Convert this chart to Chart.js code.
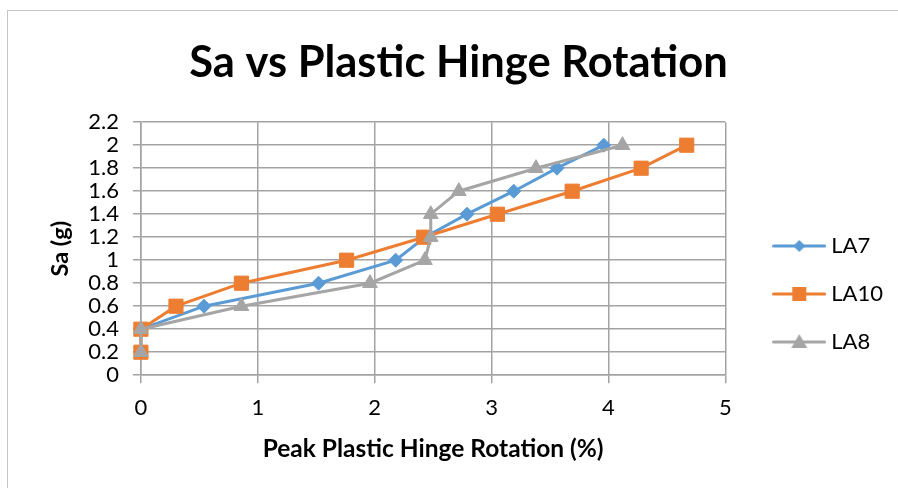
<!DOCTYPE html>
<html>
<head>
<meta charset="utf-8">
<script src="https://cdn.jsdelivr.net/npm/chart.js@4/dist/chart.umd.min.js"></script>
<style>
  html, body { margin: 0; padding: 0; background: #ffffff; overflow: hidden; width: 898px; height: 488px; }
  #frame { position: absolute; left: 7px; top: 10px; width: 904px; height: 480px;
           border-left: 1px solid #c4c4c4; border-top: 1px solid #c4c4c4; background: #fff; }
  #c { display: block; }
</style>
</head>
<body>
<div id="frame"><canvas id="c" width="904" height="480"></canvas></div>
<script>
// ---- data ----
const saLevels     = [0.2, 0.4, 0.6, 0.8, 1.0, 1.2, 1.4, 1.6, 1.8, 2.0];   // Sa (g)
const la7Rotation  = [0, 0, 0.54, 1.52, 2.18, 2.43, 2.79, 3.19, 3.56, 3.96]; // %
const la10Rotation = [0, 0, 0.30, 0.86, 1.76, 2.42, 3.05, 3.69, 4.28, 4.67]; // %
const la8Rotation  = [0, 0, 0.86, 1.96, 2.43, 2.48, 2.48, 2.72, 3.38, 4.12]; // %
const seriesNames  = ['LA7', 'LA10', 'LA8'];

const COLORS = ['#5B9BD5', '#ED7D31', '#A5A5A5'];
const STYLES = ['rectRot', 'rect', 'triangle'];
const RADII  = [7, 10, 8.5];

function toPoints(xs, ys) { return xs.map((x, i) => ({ x: x, y: ys[i] })); }

function legendImage(color, style) {
  const cv = document.createElement('canvas');
  cv.width = 54; cv.height = 18;
  const g = cv.getContext('2d');
  g.strokeStyle = color; g.fillStyle = color; g.lineWidth = 3; g.lineCap = 'round';
  g.beginPath(); g.moveTo(1.5, 9); g.lineTo(52.5, 9); g.stroke();
  const cx = 27, cy = 9;
  g.beginPath();
  if (style === 'rectRot') {
    g.moveTo(cx, cy - 6); g.lineTo(cx + 6, cy); g.lineTo(cx, cy + 6); g.lineTo(cx - 6, cy);
  } else if (style === 'rect') {
    g.rect(cx - 7, cy - 7, 14, 14);
  } else {
    g.moveTo(cx, cy - 8); g.lineTo(cx + 8, cy + 6); g.lineTo(cx - 8, cy + 6);
  }
  g.closePath(); g.fill();
  return cv;
}

const allSeries = [la7Rotation, la10Rotation, la8Rotation];
const datasets = allSeries.map((xs, i) => ({
  label: seriesNames[i],
  data: toPoints(xs, saLevels),
  borderColor: COLORS[i],
  backgroundColor: COLORS[i],
  borderWidth: 3,
  tension: 0,
  pointStyle: STYLES[i],
  pointRadius: RADII[i],
  pointHoverRadius: RADII[i],
  pointBackgroundColor: COLORS[i],
  pointBorderColor: COLORS[i],
  pointBorderWidth: 1,
  order: 3 - i,
  clip: false,
  showLine: true
}));

Chart.defaults.font.family = 'Lato, "Open Sans", sans-serif';
Chart.defaults.color = '#000000';

const GRID = '#a3a3a3';

new Chart(document.getElementById('c'), {
  type: 'scatter',
  data: { datasets: datasets },
  options: {
    responsive: false,
    animation: false,
    devicePixelRatio: 1,
    layout: { padding: { left: 16, right: 19, top: 0, bottom: 23 } },
    plugins: {
      title: {
        display: true,
        text: 'Sa vs Plastic Hinge Rotation',
        color: '#000',
        font: { size: 43.5, weight: 'bold' },
        padding: { top: 26, bottom: 33 }
      },
      legend: {
        display: true,
        position: 'right',
        align: 'center',
        title: { display: true, text: ' ', font: { size: 10 }, padding: { top: 48.5, bottom: 48.5 } },
        labels: {
          color: '#000',
          font: { size: 22 },
          usePointStyle: true,
          pointStyleWidth: 42,
          boxHeight: 22,
          padding: 26,
          generateLabels: (chart) => chart.data.datasets.map((ds, i) => ({
            text: ds.label,
            pointStyle: legendImage(COLORS[i], STYLES[i]),
            fillStyle: COLORS[i],
            strokeStyle: COLORS[i],
            lineWidth: 0,
            hidden: false,
            datasetIndex: i
          }))
        }
      },
      tooltip: { enabled: false }
    },
    scales: {
      x: {
        type: 'linear',
        min: 0, max: 5,
        ticks: { stepSize: 1, padding: 12, font: { size: 22 }, color: '#000' },
        grid: { color: GRID, lineWidth: 1.5, tickLength: 8, drawTicks: true },
        border: { color: GRID, width: 1.5 },
        title: {
          display: true,
          text: 'Peak Plastic Hinge Rotation (%)',
          font: { size: 24.5, weight: 'bold' },
          color: '#000',
          padding: { top: 1, bottom: 4 }
        }
      },
      y: {
        type: 'linear',
        min: 0, max: 2.2,
        ticks: {
          stepSize: 0.2, autoSkip: false, padding: 14, font: { size: 22 }, color: '#000',
          callback: (v) => String(Math.round(v * 10) / 10)
        },
        grid: { color: GRID, lineWidth: 1.5, tickLength: 8, drawTicks: true },
        border: { color: GRID, width: 1.5 },
        title: {
          display: true,
          text: 'Sa (g)',
          font: { size: 23.5, weight: 'bold' },
          color: '#000',
          padding: { top: 22, bottom: 0 }
        }
      },
      gap: {
        type: 'linear',
        position: 'right',
        display: true,
        grid: { display: false, drawOnChartArea: false },
        border: { display: false },
        ticks: { display: false },
        afterFit: (s) => { s.width = 27; }
      }
    }
  }
});
</script>
</body>
</html>
